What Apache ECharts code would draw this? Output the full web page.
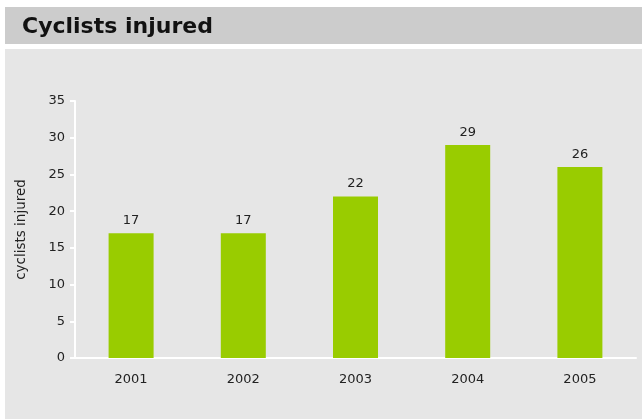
<!DOCTYPE html>
<html><head><meta charset="utf-8">
<script src="https://cdn.jsdelivr.net/npm/echarts@6/dist/echarts.min.js"></script>
<style>html,body{margin:0;padding:0;background:#fff;}#c{width:642px;height:419px;}</style>
</head><body><div id="c"></div>
<script>
const titleText = 'Cyclists injured';
const yAxisName = 'cyclists injured';
const categories = ['2001','2002','2003','2004','2005'];
const values = [17,17,22,29,26];
const yTicks = {min:0, max:35, interval:5};

const chart = echarts.init(document.getElementById('c'), null, {renderer:'canvas'});
const font = 'DejaVu Sans, Verdana, sans-serif';
chart.setOption({
  animation:false,
  backgroundColor:'#fff',
  graphic:[
    {type:'rect', shape:{x:5,y:7,width:637,height:37}, style:{fill:'#cccccc'}, z:-10},
    {type:'rect', shape:{x:5,y:49,width:637,height:370}, style:{fill:'#e6e6e6'}, z:-10},
    {type:'text', left:22, top:16, style:{text:titleText, font:'bold 22px DejaVu Sans, Verdana, sans-serif', fill:'#111'}}
  ],
  grid:{left:75, top:101, right:6, bottom:61, containLabel:false},
  xAxis:{type:'category', data:categories,
    axisLine:{lineStyle:{color:'#fff', width:2}},
    axisTick:{show:false},
    axisLabel:{color:'#222', fontFamily:font, fontSize:13, margin:15}},
  yAxis:{type:'value', min:yTicks.min, max:yTicks.max, interval:yTicks.interval,
    name:yAxisName, nameLocation:'middle', nameRotate:90, nameGap:47,
    nameTextStyle:{color:'#222', fontFamily:font, fontSize:13.5},
    axisLine:{show:true, lineStyle:{color:'#fff', width:2}},
    axisTick:{show:true, length:5, lineStyle:{color:'#fff', width:2}},
    splitLine:{show:false},
    axisLabel:{color:'#222', fontFamily:font, fontSize:13, margin:10}},
  series:[{type:'bar', data:values, barWidth:45, itemStyle:{color:'#99cc00'},
    label:{show:true, position:'top', distance:6, color:'#222', fontFamily:font, fontSize:13}}]
});
</script></body></html>
